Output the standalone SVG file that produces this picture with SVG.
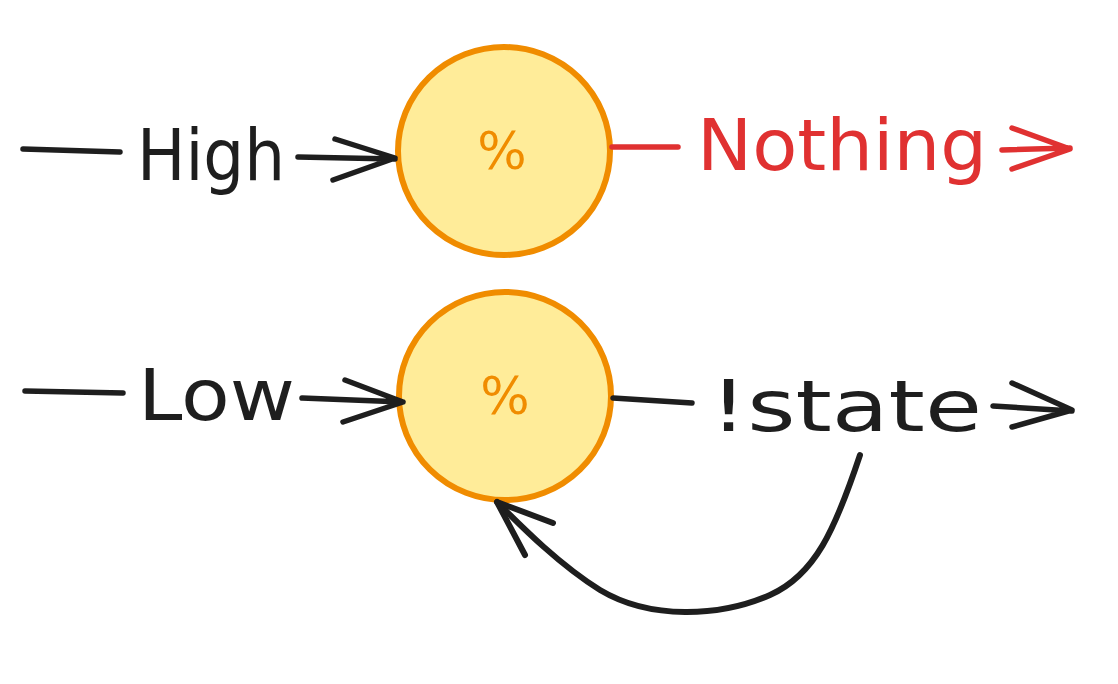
<svg xmlns="http://www.w3.org/2000/svg" width="1118" height="684" viewBox="0 0 1118 684">
<style>
.bg{fill:#ffffff}
.node{fill:#ffec99;stroke:#f08c00;stroke-width:6}
.pct{fill:#f08c00;font-family:"DejaVu Sans",sans-serif;font-size:52px;text-anchor:middle}
.ln{fill:none;stroke:#1e1e1e;stroke-width:5.5;stroke-linecap:round;stroke-linejoin:round}
.red{stroke:#e03131}
.lbl{fill:#1e1e1e;font-family:"DejaVu Sans",sans-serif;font-size:72px}
.lbl.r{fill:#e03131}
</style>
<rect class="bg" x="0" y="0" width="1118" height="684"/>
<g id="node-top">
<ellipse class="node" cx="504" cy="151" rx="106" ry="104"/>
<text class="pct" x="502" y="169">%</text>
</g>
<g id="node-bottom">
<ellipse class="node" cx="505" cy="396" rx="106" ry="104"/>
<text class="pct" x="505" y="414">%</text>
</g>
<g id="connectors">
<path class="ln" d="M23,149 L120,152"/>
<path class="ln" d="M298,157 L395,159 M335,139 L395,158 L333,180"/>
<path class="ln red" d="M612,147 L678,147"/>
<path class="ln red" d="M1002,150 L1070,148 M1012,128 L1070,149 L1012,169"/>
<path class="ln" d="M25,391 L123,393"/>
<path class="ln" d="M302,398 L403,402 M345,380 L403,402 L343,422"/>
<path class="ln" d="M613,398 L692,403"/>
<path class="ln" d="M993,406 L1072,411 M1012,383 L1072,410 L1012,427"/>
<path class="ln" d="M860,455 C835,530 815,575 770,595 C720,617 650,620 600,590 C560,565 525,530 497,502" style="stroke-width:6"/>
<path class="ln" d="M553,523 L497,502 L525,555" style="stroke-width:6"/>
</g>
<g id="labels">
<text class="lbl" x="137" y="180" textLength="148" lengthAdjust="spacingAndGlyphs">High</text>
<text class="lbl r" x="697" y="170" textLength="290" lengthAdjust="spacingAndGlyphs">Nothing</text>
<text class="lbl" x="138" y="420" textLength="157" lengthAdjust="spacingAndGlyphs">Low</text>
<text class="lbl" x="710" y="431" textLength="272" lengthAdjust="spacingAndGlyphs">!state</text>
</g>
</svg>
